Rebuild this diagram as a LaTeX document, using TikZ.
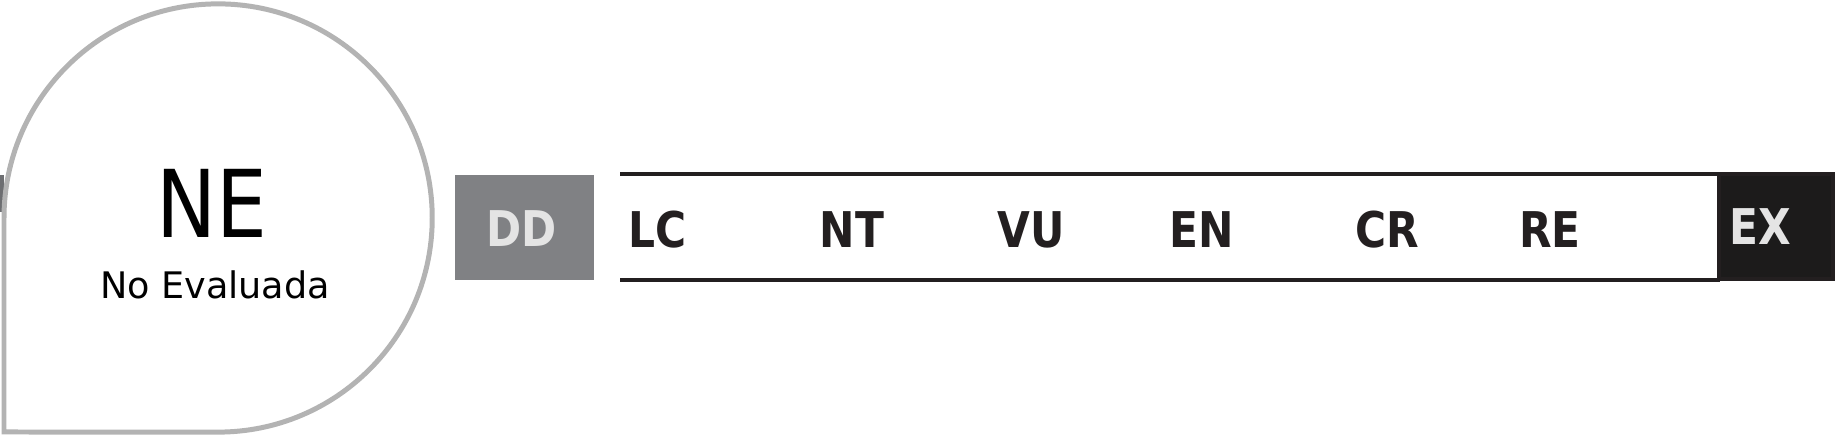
\documentclass[tikz,border=0pt]{standalone}
\usepackage{fontspec}
\setmainfont{DejaVu Sans}
\newfontfamily\catfont[FakeStretch=0.86]{DejaVu Sans}
\newfontfamily\nefont[FakeStretch=0.86]{DejaVu Sans}
\usepackage{tikz}
\usetikzlibrary{positioning,calc}
\usepackage{xcolor}
\definecolor{dropgray}{HTML}{B3B3B3}
\definecolor{ddgray}{HTML}{808184}
\definecolor{inkblack}{HTML}{231F20}
\definecolor{exblack}{HTML}{1C1B1B}
\definecolor{paletext}{HTML}{E4E4E4}
\definecolor{edgegray}{HTML}{6D6E71}

\begin{document}
\begin{tikzpicture}[
    x=0.01cm,y=0.01cm,
    drop/.style={draw=dropgray,fill=white,line width=1.42pt},
    bar/.style={draw=inkblack,line width=1.35pt},
    cat/.style={anchor=base,text=inkblack,inner sep=0pt,
                font=\catfont\bfseries\fontsize{14}{14}\selectfont},
    catpale/.style={cat,text=paletext},
    ddbox/.style={rectangle,fill=ddgray,minimum width=1.39cm,
                  minimum height=1.05cm,inner sep=0pt},
    exbox/.style={rectangle,draw=inkblack,fill=exblack,line width=1.14pt,
                  minimum width=1.14cm,minimum height=1.05cm,inner sep=0pt}
]
  \useasboundingbox (0,0) rectangle (1835,437);

  % Edge of a box peeking out behind the drop.
  \fill[edgegray] (0,262) rectangle (3.5,225);

  % Drop shape: square corner bottom left, round elsewhere.
  \draw[drop] (4,5) -- (4,219) arc[start angle=180,end angle=-90,radius=2.14cm] -- cycle;
  \node[anchor=base,inner sep=0pt,font=\nefont\fontsize{26.6}{27}\selectfont] (ne) at (212,199) {NE};
  \node[anchor=base,inner sep=0pt,font=\fontsize{10.4}{11}\selectfont] (nelabel) at (215,138) {No Evaluada};

  % Data deficient box.
  \node[ddbox] (ddbox) at (524.5,209.5) {};
  \node[catpale] (dd) at (522,190) {DD};

  % Band of the evaluated categories.
  \coordinate (topl) at (620,263);
  \coordinate (topr) at (1720,263);
  \coordinate (botl) at (620,157);
  \coordinate (botr) at (1720,157);
  \draw[bar] (topl) -- (topr);
  \draw[bar] (botl) -- (botr);

  \node[cat] (lc) at (658,189.5)  {LC};
  \node[cat] (nt) at (852,189.5)  {NT};
  \node[cat] (vu) at (1031,189.5) {VU};
  \node[cat] (en) at (1202,189.5) {EN};
  \node[cat] (cr) at (1387,189.5) {CR};
  \node[cat] (re) at (1550,189.5) {RE};

  % Extinct box closes the band.
  \node[exbox] (exbox) at (1776,210.5) {};
  \node[catpale] (ex) at (1760,192) {EX};
\end{tikzpicture}
\end{document}
